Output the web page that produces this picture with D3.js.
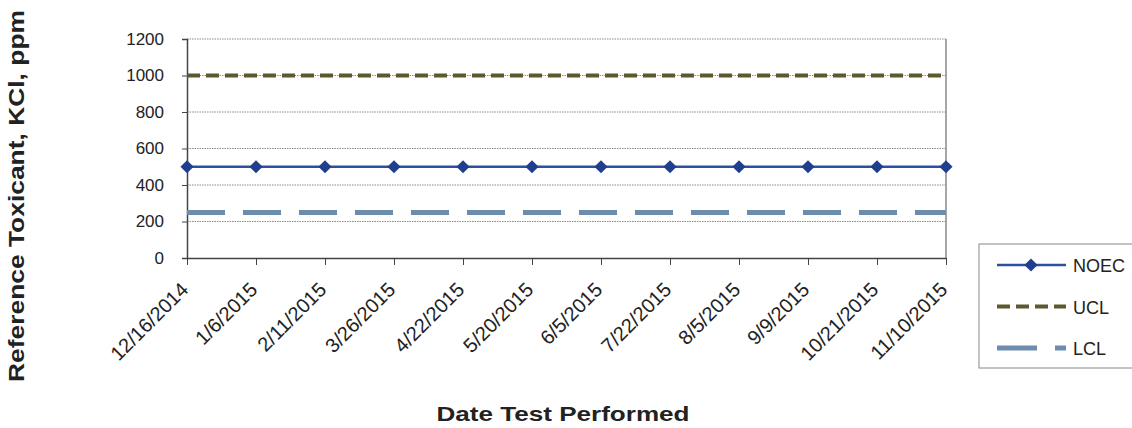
<!DOCTYPE html>
<html lang="en">

<head>
  <meta charset="UTF-8" />
  <title>Reference Toxicant Control Chart</title>
  <script src="https://d3js.org/d3.v7.min.js"></script>
  <style>
    body {
      margin: 0;
      background: #fff;
      font-family: "Liberation Sans", Arial, sans-serif;
    }
  </style>
</head>

<body>
  <svg width="1132" height="428"></svg>

  <script>
    const dates = ["12/16/2014", "1/6/2015", "2/11/2015", "3/26/2015", "4/22/2015", "5/20/2015",
      "6/5/2015", "7/22/2015", "8/5/2015", "9/9/2015", "10/21/2015", "11/10/2015"];
    const noec = [500, 500, 500, 500, 500, 500, 500, 500, 500, 500, 500, 500];
    const ucl = [1000, 1000, 1000, 1000, 1000, 1000, 1000, 1000, 1000, 1000, 1000, 1000];
    const lcl = [250, 250, 250, 250, 250, 250, 250, 250, 250, 250, 250, 250];
    const yTicks = [0, 200, 400, 600, 800, 1000, 1200];

    const svg = d3.select("svg");
    const margin = { top: 39, left: 187, right: 186, bottom: 170 };
    const width = 1132 - margin.left - margin.right;
    const height = 428 - margin.top - margin.bottom;
    const chart = svg.append("g").attr("transform", `translate(${margin.left},${margin.top})`);

    const x = d3.scalePoint().domain(dates).range([0, width]);
    const y = d3.scaleLinear().domain([0, 1200]).range([height, 0]);

    // gridlines
    chart.selectAll(".grid")
      .data(yTicks.filter(d => d > 0))
      .enter()
      .append("line")
      .attr("x1", 0)
      .attr("x2", width)
      .attr("y1", d => y(d))
      .attr("y2", d => y(d))
      .attr("stroke", "#8a8a8a")
      .attr("stroke-width", 1)
      .attr("stroke-dasharray", "1.5,1");

    // right border
    chart.append("line")
      .attr("x1", width).attr("x2", width)
      .attr("y1", 0).attr("y2", height)
      .attr("stroke", "#888").attr("stroke-width", 1.5);

    const yAxis = chart.append("g")
      .call(d3.axisLeft(y).tickValues(yTicks).tickFormat(d3.format("d")).tickSize(5).tickPadding(18));
    yAxis.select(".domain").attr("stroke", "#444").attr("stroke-width", 1.5);
    yAxis.selectAll(".tick line").attr("stroke", "#444");
    yAxis.selectAll("text")
      .attr("font-size", 17)
      .attr("fill", "#222")
      .attr("font-family", "Liberation Sans, Arial, sans-serif");

    const xAxis = chart.append("g")
      .attr("transform", `translate(0,${height})`)
      .call(d3.axisBottom(x).tickSize(7).tickSizeOuter(0));
    xAxis.select(".domain").attr("stroke", "#444").attr("stroke-width", 1.5);
    xAxis.selectAll(".tick line").attr("stroke", "#444");
    xAxis.selectAll("text")
      .attr("font-size", 20)
      .attr("fill", "#222")
      .attr("font-family", "Liberation Sans, Arial, sans-serif")
      .attr("text-anchor", "end")
      .attr("y", 0)
      .attr("dy", 0)
      .attr("transform", "translate(2,33) rotate(-45)");

    const line = d3.line().x((d, i) => x(dates[i])).y(d => y(d));

    const series = [
      { name: "NOEC", values: noec, color: "#2c4fa6", width: 2.5, dash: null },
      { name: "UCL", values: ucl, color: "#5c5a2c", width: 4, dash: "13,6" },
      { name: "LCL", values: lcl, color: "#6e8cab", width: 5, dash: "38,18" }
    ];

    series.forEach(s => {
      chart.append("path")
        .datum(s.values)
        .attr("d", line)
        .attr("fill", "none")
        .attr("stroke", s.color)
        .attr("stroke-width", s.width)
        .attr("stroke-dasharray", s.dash);
    });

    const diamond = d3.symbol().type(d3.symbolDiamond2).size(110);
    chart.selectAll(".pt")
      .data(noec)
      .enter()
      .append("path")
      .attr("d", diamond)
      .attr("transform", (d, i) => `translate(${x(dates[i])},${y(d)})`)
      .attr("fill", "#1f3e8e");

    // axis titles
    svg.append("text")
      .attr("x", 563)
      .attr("y", 421)
      .attr("text-anchor", "middle")
      .attr("font-size", 21)
      .attr("font-weight", "bold")
      .attr("fill", "#222")
      .attr("textLength", 253)
      .attr("lengthAdjust", "spacingAndGlyphs")
      .text("Date Test Performed");

    svg.append("text")
      .attr("transform", "translate(24,196) rotate(-90)")
      .attr("text-anchor", "middle")
      .attr("font-size", 22)
      .attr("font-weight", "bold")
      .attr("fill", "#222")
      .attr("textLength", 372)
      .attr("lengthAdjust", "spacingAndGlyphs")
      .text("Reference Toxicant, KCl, ppm");

    // legend
    const legend = svg.append("g").attr("transform", "translate(979,244)");
    legend.append("rect")
      .attr("width", 170)
      .attr("height", 124)
      .attr("fill", "#fff")
      .attr("stroke", "#888")
      .attr("stroke-width", 1);

    series.forEach((s, i) => {
      const g = legend.append("g").attr("transform", `translate(0,${21 + i * 41.5})`);
      g.append("line")
        .attr("x1", 18).attr("x2", 87)
        .attr("stroke", s.color)
        .attr("stroke-width", s.width)
        .attr("stroke-dasharray", s.name === "LCL" ? "40,18" : s.dash);
      if (s.name === "NOEC") {
        g.append("path").attr("d", diamond).attr("transform", "translate(52,0)").attr("fill", "#1f3e8e");
      }
      g.append("text")
        .attr("x", 94)
        .attr("y", 7)
        .attr("font-size", 18)
        .attr("fill", "#222")
        .text(s.name);
    });
  </script>
</body>

</html>
